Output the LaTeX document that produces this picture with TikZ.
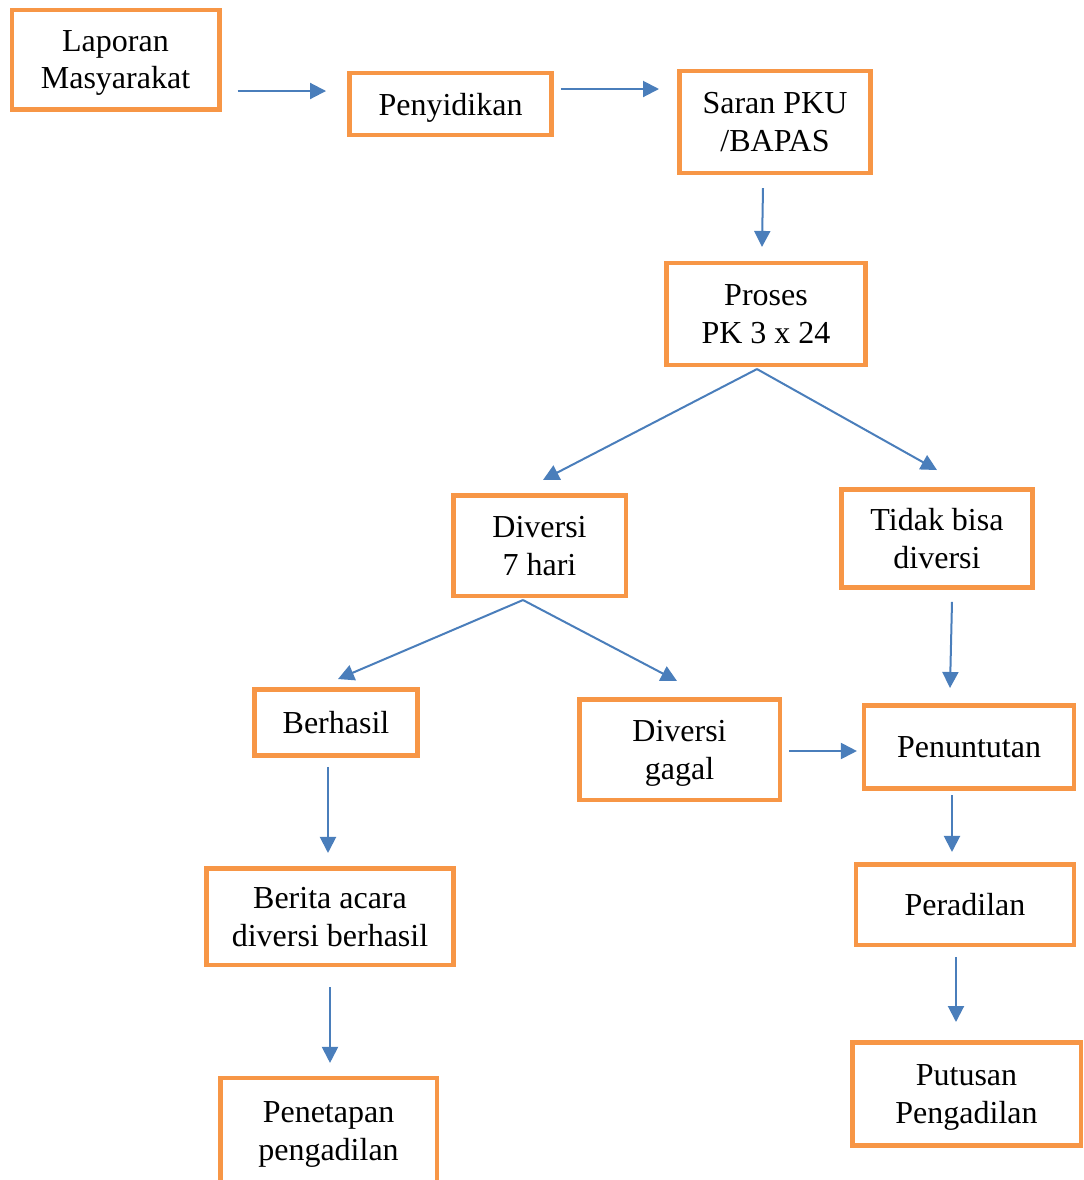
\documentclass[tikz,border=0pt]{standalone}
\usepackage{fontspec}
\setmainfont{Liberation Serif}
\usetikzlibrary{arrows.meta}

\definecolor{boxorange}{HTML}{F79646}
\definecolor{flowblue}{HTML}{4A7EBB}

\tikzset{
  box/.style={draw=boxorange, line width=1.7pt, fill=white, align=center,
    inner sep=0pt, text depth=-1.1pt, font=\fontsize{12}{14.2}\selectfont},
  flow/.style={-{Triangle[length=6pt,width=6pt]}, draw=flowblue, line width=0.75pt}
}

\begin{document}
\begin{tikzpicture}[x=0.375pt, y=-0.375pt]

		\clip (0,0) rectangle (1084,1180);

		\node (lap) [box, minimum width=77.8pt, minimum height=37.3pt] at (115.5,59.5) {Laporan\\Masyarakat};
		\node (pen) [box, minimum width=75.9pt, minimum height=23.1pt] at (450.5,104) {Penyidikan};
		\node (sar) [box, minimum width=71.8pt, minimum height=38.1pt] at (775,122) {Saran PKU\\/BAPAS};
		\node (pro) [box, minimum width=74.8pt, minimum height=38.1pt] at (766,314) {Proses\\PK 3 x 24};
		\node (div) [box, minimum width=64.7pt, minimum height=37.7pt] at (539.5,545.5) {Diversi\\7 hari};
		\node (tid) [box, minimum width=71.8pt, minimum height=36.9pt] at (937,538.5) {Tidak bisa\\diversi};
		\node (ber) [box, minimum width=61.3pt, minimum height=24.9pt] at (336,722.5) {Berhasil};
		\node (gag) [box, minimum width=75.2pt, minimum height=37.7pt] at (679.5,749.5) {Diversi\\gagal};
		\node (pnt) [box, minimum width=78.6pt, minimum height=31.3pt] at (969,747) {Penuntutan};
		\node (bac) [box, minimum width=92.8pt, minimum height=36.2pt] at (330,916.5) {Berita acara\\diversi berhasil};
		\node (per) [box, minimum width=81.6pt, minimum height=30.2pt] at (965,904.5) {Peradilan};
		\node (pet) [box, minimum width=81.2pt, minimum height=39.6pt] at (328.5,1131) {Penetapan\\pengadilan};
		\node (put) [box, minimum width=85.7pt, minimum height=38.8pt] at (966.5,1094) {Putusan\\Pengadilan};

		% alur utama
		\draw [flow] ([shift={(16,31.5)}]lap.east) -- ([shift={(-21,-13)}]pen.west);
		\draw [flow] ([shift={(7,-15)}]pen.east) -- ([shift={(-18,-33)}]sar.west);
		\draw [flow] ([shift={(-12,13)}]sar.south) -- ([shift={(-4,-14)}]pro.north);
		\draw [flow] ([shift={(-9,2)}]pro.south) -- ([shift={(3.5,-13)}]div.north);
		\draw [flow] ([shift={(-9,2)}]pro.south) -- ([shift={(0,-17)}]tid.north);

		% cabang diversi
		\draw [flow] ([shift={(-16.5,2)}]div.south) -- ([shift={(2,-8)}]ber.north);
		\draw [flow] ([shift={(-16.5,2)}]div.south) -- ([shift={(-2.5,-16)}]gag.north);
		\draw [flow] ([shift={(-8,9)}]ber.south) -- ([shift={(-2,-13)}]bac.north);
		\draw [flow] ([shift={(0,20)}]bac.south) -- ([shift={(1.5,-13)}]pet.north);
		\draw [flow] ([shift={(7,1.5)}]gag.east) -- ([shift={(-5,4)}]pnt.west);

		% peradilan
		\draw [flow] ([shift={(15,12)}]tid.south) -- ([shift={(-19,-15)}]pnt.north);
		\draw [flow] ([shift={(-17,4)}]pnt.south) -- ([shift={(-13,-10)}]per.north);
		\draw [flow] ([shift={(-9,10)}]per.south) -- ([shift={(-10.5,-18)}]put.north);

\end{tikzpicture}
\end{document}
